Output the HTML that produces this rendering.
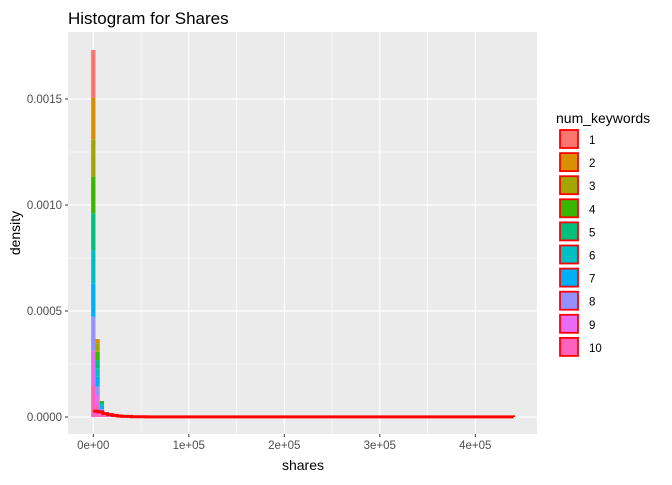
<!DOCTYPE html>
<html><head><meta charset="utf-8"><style>
body{margin:0;background:#fff;}
svg text{font-family:"Liberation Sans",Arial,sans-serif;}
</style></head><body>
<svg id="chart" width="672" height="480" xmlns="http://www.w3.org/2000/svg">
<rect x="0" y="0" width="672" height="480" fill="#fff"/>
<text x="68" y="24" font-size="17" fill="#000">Histogram for Shares</text>
<rect x="68" y="32" width="469" height="402" fill="#ebebeb"/>
<g id="grid"></g>
<g id="bars"></g>
<g id="line"></g>
<g id="axes"></g>
<text x="303" y="470" font-size="14" text-anchor="middle" fill="#000">shares</text>
<text transform="translate(20,233) rotate(-90)" font-size="14" text-anchor="middle" fill="#000">density</text>
<text x="556" y="123" font-size="14" fill="#000">num_keywords</text>
<g id="legend"></g>
</svg>
<script>
const categories=["1","2","3","4","5","6","7","8","9","10"];
const colors=["#F8766D","#D89000","#A3A500","#39B600","#00BF7D","#00BFC4","#00B0F6","#9590FF","#E76BF3","#FF62BC"];
const binStarts=[-2250,2250,6750,11250,15750,20250,24750,29250,33750,38250,42750,47250,51750];
const binWidth=4500;
const s1=[0.000226,0.0000,0,0,0,0,0,0,0,0,0,0,0];
const s2=[0.000195,0.0000203,0,0.0000008,0,0,0,0,0,0,0,0,0];
const s3=[0.000176,0.0000396,0,0.0000008,0.0000004,0,0,0,0,0,0,0,0];
const s4=[0.000173,0.0000392,0.000007,0.0000008,0.0000004,0.0000002,0,0,0,0,0,0,0];
const s5=[0.000173,0.0000392,0.000007,0.000001,0.0000005,0.0000002,0.0000001,0,0,0,0,0,0];
const s6=[0.000157,0.0000392,0.0000094,0.000001,0.0000005,0.0000002,0.0000001,0,0,0,0,0,0];
const s7=[0.000158,0.0000472,0.0000142,0.0000015,0.0000008,0.0000004,0.0000002,0.0000001,0,0,0,0,0];
const s8=[0.00016,0.0000392,0.0000094,0.000002,0.000001,0.0000005,0.0000003,0.0000002,0.0000001,0,0,0,0];
const s9=[0.000162,0.0000472,0.0000142,0.000003,0.0000015,0.0000008,0.0000004,0.0000002,0.0000001,0.0000001,0,0,0];
const s10=[0.000151,0.0000566,0.0000142,0.000006,0.000003,0.000002,0.0000012,0.0000008,0.0000005,0.0000004,0.0000003,0.0000002,0.0000001];
const series=[s1,s2,s3,s4,s5,s6,s7,s8,s9,s10];
const lineX=[0,5000,10000,15000,20000,25000,30000,40000,55000,440000];
const lineY=[0.000027,0.000024,0.000016,0.000011,0.0000075,0.000005,0.000003,0.0000013,0.0000003,0];
const xTicks=[0,100000,200000,300000,400000];
const xTickLabels=["0e+00","1e+05","2e+05","3e+05","4e+05"];
const yTicks=[0,0.0005,0.001,0.0015];
const yTickLabels=["0.0000","0.0005","0.0010","0.0015"];
const NS="http://www.w3.org/2000/svg";
const X=v=>93.3+v*(95.5/100000);
const Y=v=>417-v*(106/0.0005);
function mk(tag,attrs,parent){const e=document.createElementNS(NS,tag);for(const k in attrs)e.setAttribute(k,attrs[k]);document.getElementById(parent).appendChild(e);return e;}
[50000,150000,250000,350000].forEach(v=>{const e=mk('line',{x1:X(v),x2:X(v),y1:32,y2:434,stroke:'#fff','stroke-width':0.6},'grid');

});
[0.00025,0.00075,0.00125].forEach(v=>{const e=mk('line',{x1:68,x2:537,y1:Y(v),y2:Y(v),stroke:'#fff','stroke-width':0.6},'grid');

});
xTicks.forEach((v,i)=>{const e=mk('line',{x1:X(v),x2:X(v),y1:32,y2:434,stroke:'#fff','stroke-width':1.2},'grid');


const t=mk('line',{x1:X(v),x2:X(v),y1:434,y2:437,stroke:'#333','stroke-width':1},'axes');


const l=mk('text',{x:X(v),y:449,'font-size':11.5,'text-anchor':'middle',fill:'#4d4d4d'},'axes');l.textContent=xTickLabels[i];

});
yTicks.forEach((v,i)=>{const e=mk('line',{x1:68,x2:537,y1:Y(v),y2:Y(v),stroke:'#fff','stroke-width':1.2},'grid');


const t=mk('line',{x1:65,x2:68,y1:Y(v),y2:Y(v),stroke:'#333','stroke-width':1},'axes');


const l=mk('text',{x:62,y:Y(v)+4,'font-size':11.5,'text-anchor':'end',fill:'#4d4d4d'},'axes');l.textContent=yTickLabels[i];

});
binStarts.forEach((b,bi)=>{let acc=0;for(let si=series.length-1;si>=0;si--){const v=series[si][bi];if(v<=0)continue;
const y1=Y(acc+v),y0=Y(acc);acc+=v;
const r=mk('rect',{x:X(b),y:y1,width:X(b+binWidth)-X(b),height:y0-y1,fill:colors[si]},'bars');

}});
let d='';lineX.forEach((x,i)=>{if(i===0)d+='M'+X(x)+' '+Y(lineY[i]);else d+=' H'+X(x)+' V'+Y(lineY[i]);});
d+=' H'+X(440000);
const p=mk('path',{d:d,fill:'none',stroke:'#ff0000','stroke-width':3},'line');


categories.forEach((c,i)=>{const y=130+i*23.1;
const r=mk('rect',{x:560,y:y,width:18,height:18,fill:colors[i],stroke:'#ff0000','stroke-width':1.8},'legend');


const t=mk('text',{x:589,y:y+14,'font-size':11.5,fill:'#000'},'legend');t.textContent=c;

});
</script>
</body></html>
